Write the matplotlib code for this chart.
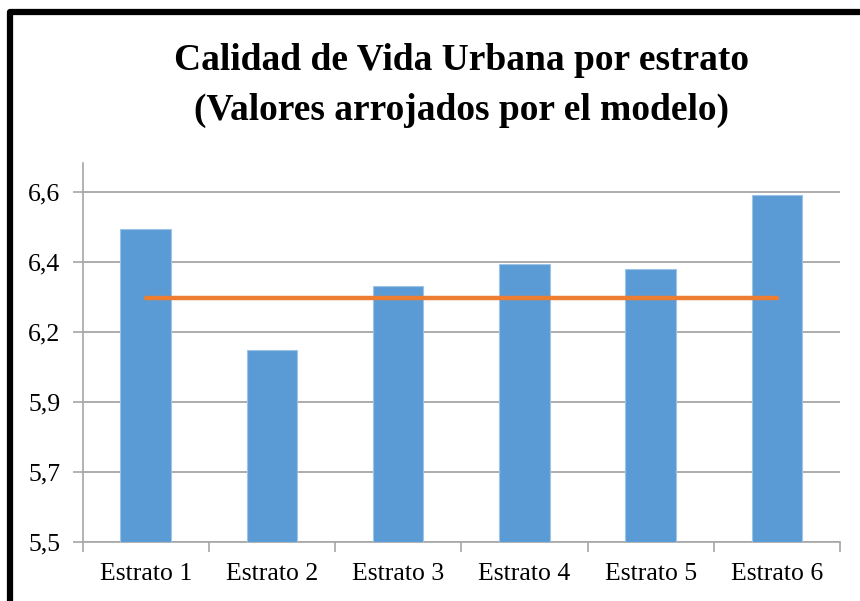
import matplotlib
matplotlib.use("Agg")
import matplotlib.pyplot as plt
from matplotlib.lines import Line2D

categories = ["Estrato 1", "Estrato 2", "Estrato 3", "Estrato 4", "Estrato 5", "Estrato 6"]
values = [6.482, 6.101, 6.304, 6.373, 6.356, 6.590]
reference_value = 6.265
y_ticks = [5.5, 5.72, 5.94, 6.16, 6.38, 6.6]
y_tick_labels = ["5,5", "5,7", "5,9", "6,2", "6,4", "6,6"]
title_line1 = "Calidad de Vida Urbana por estrato"
title_line2 = "(Valores arrojados por el modelo)"

plt.rcParams['font.family'] = ['Liberation Serif', 'DejaVu Serif']

W, H = 860, 601
fig = plt.figure(figsize=(W / 100, H / 100), dpi=100)
left, right, bottom, top = 82.5, 840, 541.7, 163
ax = fig.add_axes([left / W, 1 - bottom / H, (right - left) / W, (bottom - top) / H])

x = list(range(len(categories)))
ax.bar(x, values, width=0.40, color="#5B9BD5", edgecolor="#9DC3E6", linewidth=0.8, zorder=3)
ax.plot([x[0], x[-1]], [reference_value, reference_value], color="#ED7D31",
        linewidth=3.2, solid_capstyle="round", zorder=4)

ax.set_xlim(-0.5, len(categories) - 0.5)
ax.set_ylim(5.5, 6.69)
ax.set_yticks(y_ticks)
ax.set_yticklabels(y_tick_labels)
ax.yaxis.grid(True, color="#A6A6A6", linewidth=1.3, zorder=0)
ax.set_axisbelow(True)

ax.set_xticks([i - 0.5 for i in range(len(categories) + 1)])
ax.set_xticklabels([])
ax.set_xticks(x, minor=True)
ax.set_xticklabels(categories, minor=True)
ax.tick_params(axis='x', which='major', length=7, color="#A6A6A6", width=1.2)
ax.tick_params(axis='x', which='minor', length=0, pad=15, labelsize=18.5)
ax.tick_params(axis='y', length=7, color="#A6A6A6", width=1.2, pad=9, labelsize=18.5)

for s in ['top', 'right']:
    ax.spines[s].set_visible(False)
for s in ['left', 'bottom']:
    ax.spines[s].set_color("#A6A6A6")
    ax.spines[s].set_linewidth(1.2)

cx = (left + right) / 2 / W
fig.text(cx, 1 - 70 / H, title_line1, ha='center', va='baseline', fontsize=27, fontweight='bold')
fig.text(cx, 1 - 120 / H, title_line2, ha='center', va='baseline', fontsize=27, fontweight='bold')

border = Line2D([10 / W, 10 / W, 1.05], [-0.05, 1 - 12 / H, 1 - 12 / H], transform=fig.transFigure,
                color='black', linewidth=4.5, solid_joinstyle='round')
fig.add_artist(border)

fig.savefig("out.png", dpi=100)
